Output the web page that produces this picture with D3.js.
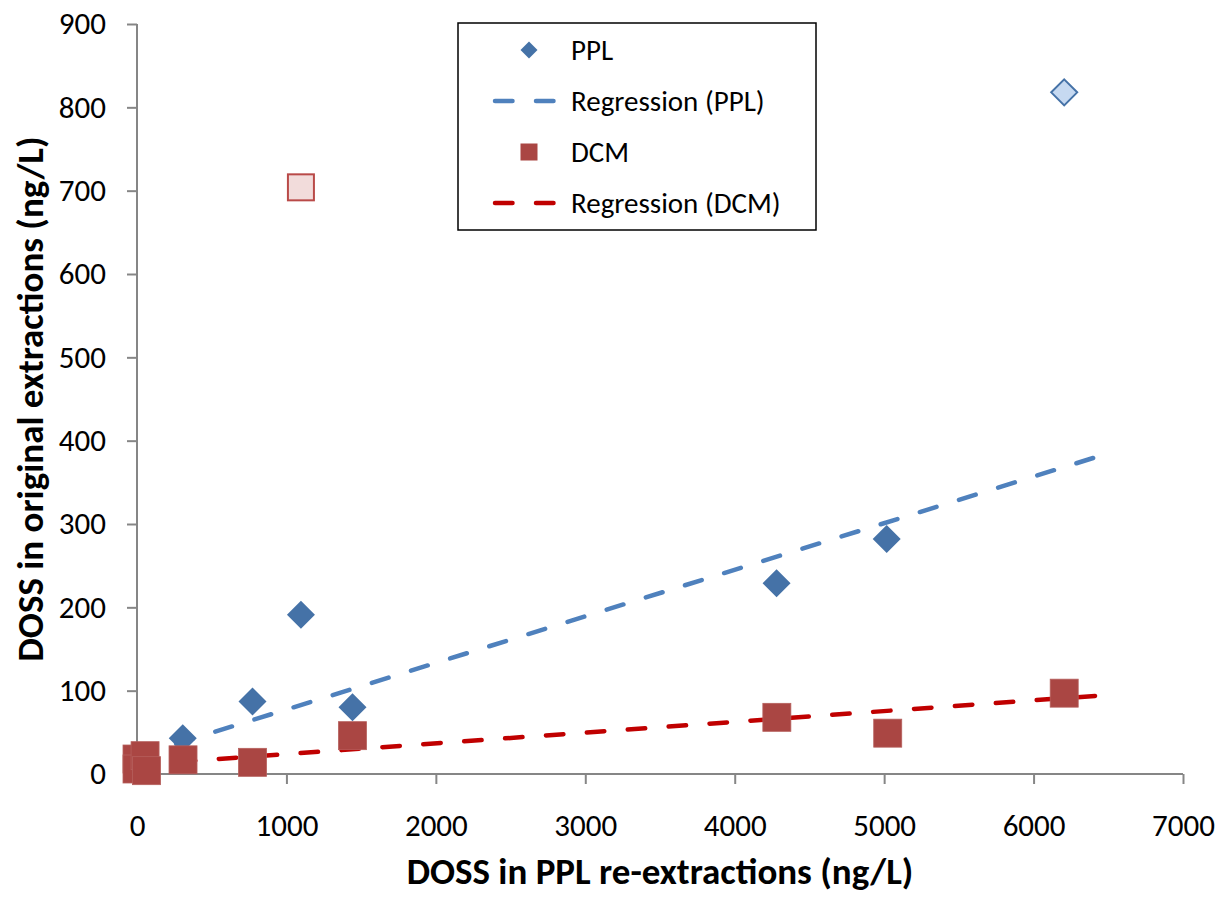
<!DOCTYPE html>
<html>
<head>
<meta charset="utf-8">
<script src="https://cdn.jsdelivr.net/npm/d3@7"></script>
<style>
  body { margin: 0; background: #fff; }
  svg text { font-family: Carlito, Calibri, Lato, sans-serif; fill: #000; }
</style>
</head>
<body>
<div id="chart"></div>
<script>
// PPL points (x = PPL re-extraction, y = original extraction)
const pplX = [306, 773, 1097, 1442, 4280, 5017];
const pplY = [43, 87, 191, 80, 229, 282];
const pplOutX = [6205];
const pplOutY = [818];

// DCM points
const dcmX = [0, 0, 54, 64, 308, 773, 1442, 4282, 5024, 6205];
const dcmY = [18, 6, 22, 4, 17, 14, 46, 68, 49, 97];
const dcmOutX = [1097];
const dcmOutY = [704];

// regression lines: [slope, intercept], drawn from x 0 to 6500
const regPPL = [0.0559, 21.5];
const regDCM = [0.0129, 11];
const regRange = [0, 6500];

const xTicks = [0, 1000, 2000, 3000, 4000, 5000, 6000, 7000];
const yTicks = [0, 100, 200, 300, 400, 500, 600, 700, 800, 900];

const legendLabels = ["PPL", "Regression (PPL)", "DCM", "Regression (DCM)"];

const W = 1222, H = 897;
const margin = { top: 24, right: 39, bottom: 123, left: 137 };
const iw = W - margin.left - margin.right;
const ih = H - margin.top - margin.bottom;

const blue = "#4572a7", red = "#aa4643";
const blueLine = "#4f81bd", redLine = "#c00000";
const axisCol = "#868686";

const svg = d3.select("#chart").append("svg")
  .attr("width", W).attr("height", H);
const g = svg.append("g").attr("transform", `translate(${margin.left},${margin.top})`);

const x = d3.scaleLinear().domain([0, 7000]).range([0, iw]);
const y = d3.scaleLinear().domain([0, 900]).range([ih, 0]);

// axes
const xAxis = g.append("g").attr("transform", `translate(0,${ih})`)
  .call(d3.axisBottom(x).tickValues(xTicks).tickFormat(d3.format("d"))
    .tickSize(10).tickPadding(30).tickSizeOuter(10));
const yAxis = g.append("g")
  .call(d3.axisLeft(y).tickValues(yTicks).tickFormat(d3.format("d"))
    .tickSize(10).tickPadding(21).tickSizeOuter(10));
[xAxis, yAxis].forEach(a => {
  a.selectAll("path, line").attr("stroke", axisCol).attr("stroke-width", 2);
  a.selectAll("text").style("font-size", "31px").style("font-family", "Carlito, Calibri, Lato, sans-serif");
});
xAxis.select(".domain").attr("d", `M0,0H${iw}`);
yAxis.select(".domain").attr("d", `M0,0V${ih}`);

// regression lines
function regLine(r, col) {
  g.append("line")
    .attr("x1", x(regRange[0])).attr("y1", y(r[0] * regRange[0] + r[1]))
    .attr("x2", x(regRange[1])).attr("y2", y(r[0] * regRange[1] + r[1]))
    .attr("stroke", col).attr("stroke-width", 4.5)
    .attr("stroke-dasharray", "17.5,23.5").attr("stroke-linecap", "round");
}
regLine(regPPL, blueLine);
regLine(regDCM, redLine);

function diamondPath(half) {
  return `M0,${-half}L${half},0L0,${half}L${-half},0Z`;
}

// PPL diamonds
g.selectAll(".ppl").data(d3.zip(pplX, pplY)).join("path")
  .attr("class", "ppl")
  .attr("d", diamondPath(14))
  .attr("transform", d => `translate(${x(d[0])},${y(d[1])})`)
  .attr("fill", blue);
g.selectAll(".pplOut").data(d3.zip(pplOutX, pplOutY)).join("path")
  .attr("class", "pplOut")
  .attr("d", diamondPath(13))
  .attr("transform", d => `translate(${x(d[0])},${y(d[1])})`)
  .attr("fill", "#c6d9f1").attr("stroke", blue).attr("stroke-width", 2);

// DCM squares
g.selectAll(".dcm").data(d3.zip(dcmX, dcmY)).join("rect")
  .attr("class", "dcm")
  .attr("x", d => x(d[0]) - 14).attr("y", d => y(d[1]) - 14)
  .attr("width", 28).attr("height", 28)
  .attr("fill", red).attr("stroke", "#b6605d").attr("stroke-width", 0.8);
g.selectAll(".dcmOut").data(d3.zip(dcmOutX, dcmOutY)).join("rect")
  .attr("class", "dcmOut")
  .attr("x", d => x(d[0]) - 13).attr("y", d => y(d[1]) - 13)
  .attr("width", 26).attr("height", 26)
  .attr("fill", "#f2dcdb").attr("stroke", "#b94a48").attr("stroke-width", 2);

// axis titles
svg.append("text")
  .attr("x", margin.left + iw / 2).attr("y", 884)
  .attr("text-anchor", "middle")
  .style("font-size", "37px").style("font-weight", "bold")
  .text("DOSS in PPL re-extractions (ng/L)");
svg.append("text")
  .attr("transform", `translate(43,${margin.top + ih / 2}) rotate(-90)`)
  .attr("text-anchor", "middle")
  .style("font-size", "37px").style("font-weight", "bold")
  .text("DOSS in original extractions (ng/L)");

// legend
const lg = svg.append("g");
lg.append("rect").attr("x", 458).attr("y", 23).attr("width", 358).attr("height", 207)
  .attr("fill", "#fff").attr("stroke", "#000").attr("stroke-width", 1.5);
const rowsY = [50, 101, 152, 203];
lg.append("path").attr("d", diamondPath(8.5))
  .attr("transform", `translate(529,${rowsY[0]})`).attr("fill", blue);
lg.append("line").attr("x1", 495).attr("x2", 557).attr("y1", rowsY[1]).attr("y2", rowsY[1])
  .attr("stroke", blueLine).attr("stroke-width", 4.5)
  .attr("stroke-dasharray", "17.5,23.5").attr("stroke-linecap", "round");
lg.append("rect").attr("x", 520.5).attr("y", rowsY[2] - 8.5).attr("width", 17).attr("height", 17)
  .attr("fill", red);
lg.append("line").attr("x1", 495).attr("x2", 557).attr("y1", rowsY[3]).attr("y2", rowsY[3])
  .attr("stroke", redLine).attr("stroke-width", 4.5)
  .attr("stroke-dasharray", "17.5,23.5").attr("stroke-linecap", "round");
lg.selectAll(".lt").data(legendLabels).join("text")
  .attr("class", "lt")
  .attr("x", 571).attr("y", (d, i) => rowsY[i])
  .attr("dy", "0.35em")
  .style("font-size", "29px")
  .text(d => d);
</script>
</body>
</html>
